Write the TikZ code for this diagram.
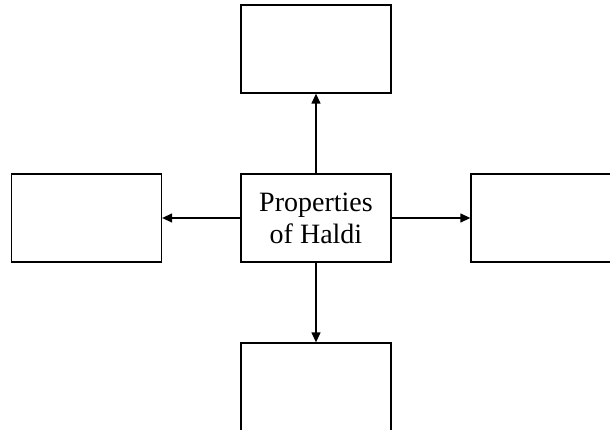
\documentclass[tikz,border=0pt]{standalone}
\usepackage{fontspec}
\setmainfont{Liberation Serif}
\usetikzlibrary{arrows.meta}
\begin{document}
\begin{tikzpicture}[x=1pt,y=-1pt,
  box/.style={draw=black,line width=1.3pt,fill=white,minimum width=150pt,minimum height=88pt,inner sep=0pt,align=center,font=\fontsize{28}{32}\selectfont},
  conn/.style={line width=1.3pt,-{Triangle[length=10pt,width=9pt]}}]
\useasboundingbox (0,0) rectangle (610,430);
\clip (0,0) rectangle (610,430);
\node[box] (c) at (316,218) {Properties\\of Haldi};
\node[box] (t) at (316,49) {};
\node[box] (l) at (86.5,218) {};
\node[box] (r) at (546,218) {};
\node[box] (b) at (316,387) {};
\draw[conn] (c.north) -- (t.south);
\draw[conn] (c.west) -- (l.east);
\draw[conn] (c.east) -- (r.west);
\draw[conn] (c.south) -- (b.north);
\end{tikzpicture}
\end{document}
